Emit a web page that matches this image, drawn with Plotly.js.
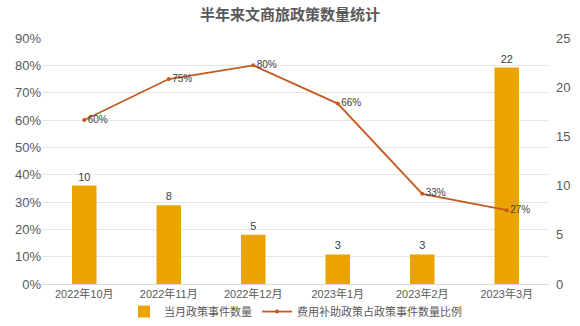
<!DOCTYPE html>
<html><head><meta charset="utf-8">
<script src="https://cdn.plot.ly/plotly-3.0.1.min.js"></script>
<style>html,body{margin:0;padding:0;background:#fff}#c{width:580px;height:326px}</style>
</head><body><div id="c"></div>
<script>
const categories = ["2022年10月","2022年11月","2022年12月","2023年1月","2023年2月","2023年3月"];
const policyCounts = [10, 8, 5, 3, 3, 22];
const subsidyRatio = [0.60, 0.75, 0.80, 0.66, 0.33, 0.27];
const ratioLabels = ["60%","75%","80%","66%","33%","27%"];
const leftTicks = [0,0.1,0.2,0.3,0.4,0.5,0.6,0.7,0.8,0.9];
const rightTicks = [0,5,10,15,20,25];

const FONT = "'Liberation Sans', 'Noto Sans CJK SC', sans-serif";
const traces = [
  {type:'bar', name:'当月政策事件数量', x:categories, y:policyCounts, yaxis:'y',
   marker:{color:'#EBA300'}, width:0.29,
   text:policyCounts.map(String), textposition:'outside', cliponaxis:false,
   textfont:{color:'#404040', size:11, family:FONT}, hoverinfo:'none'},
  {type:'scatter', mode:'lines+markers+text', name:'费用补助政策占政策事件数量比例',
   x:categories, y:subsidyRatio, yaxis:'y2',
   line:{color:'#C65A1E', width:1.8}, marker:{color:'#C65A1E', size:4},
   text:ratioLabels, textposition:'middle right', cliponaxis:false,
   textfont:{color:'#404040', size:10, family:FONT}, hoverinfo:'none'}
];
const layout = {
  width:580, height:326,
  margin:{l:42, r:31, t:38, b:42, autoexpand:false},
  paper_bgcolor:'#fff', plot_bgcolor:'#fff',
  font:{family:FONT, color:'#595959', size:12},
  title:{text:'<b>半年来文商旅政策数量统计</b>', x:0.5, xanchor:'center', y:0.955, yanchor:'middle',
         font:{size:15, color:'#595959', family:FONT}},
  showlegend:true,
  legend:{orientation:'h', x:0.5, xanchor:'center', y:-0.112, yanchor:'middle',
          bgcolor:'rgba(0,0,0,0)', font:{size:11, color:'#595959', family:FONT}, tracegroupgap:0},
  xaxis:{type:'category', showgrid:false, showline:true, linecolor:'#D9D9D9', linewidth:1,
         ticks:'', tickfont:{size:11, color:'#595959'}, fixedrange:true},
  yaxis:{side:'right', range:[0,25], tickvals:rightTicks, showgrid:false, zeroline:false,
         showline:false, ticks:'', tickfont:{size:13, color:'#595959'}, ticklabelstandoff:6},
  yaxis2:{overlaying:'y', side:'left', range:[0,0.9], tickvals:leftTicks, tickformat:'.0%',
          showgrid:true, gridcolor:'#E6E6E6', gridwidth:1, zeroline:false, showline:false,
          ticks:'', tickfont:{size:13, color:'#595959'}}
};
Plotly.newPlot('c', traces, layout, {staticPlot:true, displayModeBar:false});
</script></body></html>
